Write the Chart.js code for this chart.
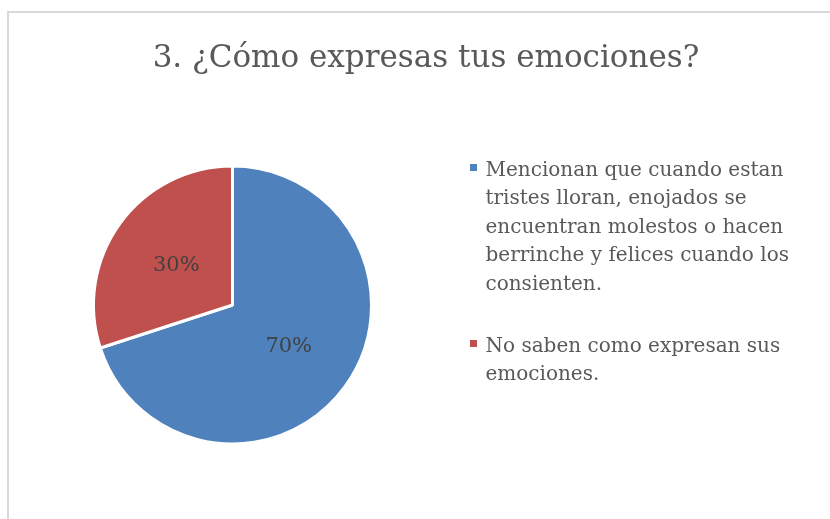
<!DOCTYPE html>
<html>
<head>
<meta charset="utf-8">
<title>3. ¿Cómo expresas tus emociones?</title>
<script src="https://cdn.jsdelivr.net/npm/chart.js@4/dist/chart.umd.min.js"></script>
<style>
    html, body { margin: 0; padding: 0; background: #ffffff; }
    #wrap { width: 830px; height: 519px; }
</style>
</head>
<body>
<div id="wrap"><canvas id="chart" width="830" height="519"></canvas></div>
<script>
// chart data
var chartTitle = '3. ¿Cómo expresas tus emociones?';
var categories = [
    ['Mencionan que cuando estan', 'tristes lloran, enojados se', 'encuentran molestos o hacen', 'berrinche y felices cuando los', 'consienten.'],
    ['No saben como expresan sus', 'emociones.']
];
var percentages = [70, 30];

var Sketch = {
    s: {
        canvas: document.getElementById('chart'),
        sliceColors: ['#4F81BD', '#C0504D'],
        textColor: '#595959',
        labelColor: '#404040',
        frameColor: '#d9d9d9',
        fontFamily: '"DejaVu Serif", serif'
    },

    init: function () {
        Sketch.buildChart();
    },

    // light grey frame of the original chart object, cut off at the right and bottom
    framePlugin: {
        id: 'frame',
        beforeDraw: function (chart) {
            let ctx = chart.ctx;
            ctx.save();
            ctx.strokeStyle = Sketch.s.frameColor;
            ctx.lineWidth = 2;
            ctx.strokeRect(8, 12, 900, 600);
            ctx.restore();
        }
    },

    titlePlugin: {
        id: 'sketchTitle',
        afterDraw: function (chart) {
            let ctx = chart.ctx;
            ctx.save();
            ctx.font = '31px ' + Sketch.s.fontFamily;
            ctx.fillStyle = Sketch.s.textColor;
            ctx.textAlign = 'center';
            ctx.textBaseline = 'alphabetic';
            ctx.fillText(chartTitle, 426, 67);
            ctx.restore();
        }
    },

    // percent labels in the middle of each slice
    sliceLabelPlugin: {
        id: 'sliceLabels',
        afterDatasetsDraw: function (chart) {
            let ctx = chart.ctx;
            let meta = chart.getDatasetMeta(0);
            let values = chart.data.datasets[0].data;
            let total = values.reduce(function (a, b) { return a + b; }, 0);
            ctx.save();
            ctx.font = '21px ' + Sketch.s.fontFamily;
            ctx.fillStyle = Sketch.s.labelColor;
            ctx.textAlign = 'center';
            ctx.textBaseline = 'middle';
            for (let i = 0; i < meta.data.length; i++) {
                let pos = meta.data[i].tooltipPosition();
                ctx.fillText(Math.round(values[i] / total * 100) + '%', pos.x, pos.y + 1);
            }
            ctx.restore();
        }
    },

    // legend on the right, each entry wrapped over several lines
    legendPlugin: {
        id: 'sideLegend',
        afterDraw: function (chart) {
            let ctx = chart.ctx;
            let labels = chart.data.labels;
            let colors = chart.data.datasets[0].backgroundColor;
            let x = 470;
            let y = 176;
            let lineHeight = 28.4;
            ctx.save();
            ctx.font = '20px ' + Sketch.s.fontFamily;
            ctx.textBaseline = 'alphabetic';
            for (let i = 0; i < labels.length; i++) {
                ctx.fillStyle = colors[i];
                ctx.fillRect(x, y - 12, 7, 7);
                ctx.fillStyle = Sketch.s.textColor;
                for (let j = 0; j < labels[i].length; j++) {
                    ctx.fillText(labels[i][j], x + 15.5, y + j * lineHeight);
                }
                y += labels[i].length * lineHeight + 34;
            }
            ctx.restore();
        }
    },

    buildChart: function () {
        let pieData = {
            labels: categories,
            datasets: [{
                data: percentages,
                backgroundColor: Sketch.s.sliceColors,
                borderColor: '#ffffff',
                borderWidth: 3
            }]
        };

        let chartOptions = {
            responsive: false,
            animation: false,
            events: [],
            layout: {
                padding: { left: 92, right: 457, top: 164.5, bottom: 73.5 }
            },
            plugins: {
                legend: { display: false },
                title: { display: false },
                tooltip: { enabled: false }
            }
        };

        let chart = new Chart(Sketch.s.canvas, {
            type: 'pie',
            data: pieData,
            options: chartOptions,
            plugins: [Sketch.framePlugin, Sketch.sliceLabelPlugin, Sketch.titlePlugin, Sketch.legendPlugin]
        });
    }
};

document.addEventListener('DOMContentLoaded', function () {
    Sketch.init();
});
</script>
</body>
</html>
